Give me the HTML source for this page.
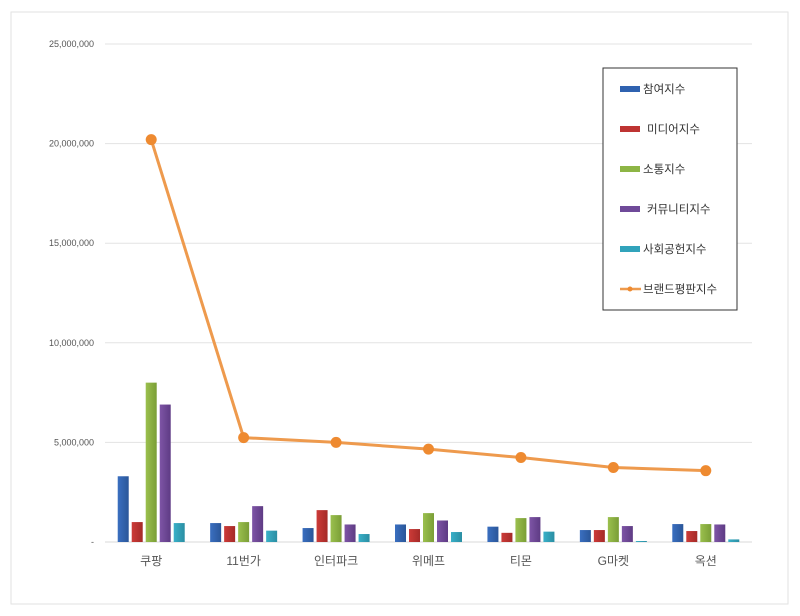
<!DOCTYPE html>
<html><head><meta charset="utf-8"><style>
body{margin:0;background:#fff;}
svg{display:block;font-family:"Liberation Sans","Noto Sans CJK KR",sans-serif;}
</style></head><body>
<svg id="chart" width="800" height="616">
<rect x="11" y="12" width="777" height="592" fill="#fff" stroke="#e2e2e2"/>
<g id="grid"></g>
<g id="yticks"></g>
<g id="bars"></g>
<g id="line"></g>
<g id="xlabels"></g>
<g id="legend"></g>
</svg>
<script>
const categories=["쿠팡","11번가","인터파크","위메프","티몬","G마켓","옥션"];
const participation=[3300000,950000,700000,880000,770000,600000,900000];
const media=[1000000,800000,1600000,650000,460000,600000,550000];
const communication=[8000000,1000000,1350000,1450000,1200000,1250000,900000];
const community=[6900000,1800000,880000,1080000,1250000,800000,880000];
const social=[950000,570000,400000,500000,520000,50000,130000];
const brandIndex=[20200000,5240000,5000000,4660000,4240000,3740000,3580000];
const yTicks=[0,5000000,10000000,15000000,20000000,25000000];
const yTickLabels=["-","5,000,000","10,000,000","15,000,000","20,000,000","25,000,000"];
const seriesNames=["참여지수","미디어지수","소통지수","커뮤니티지수","사회공헌지수","브랜드평판지수"];

const NS="http://www.w3.org/2000/svg";
const X0=105,X1=752,Y0=542,Y1=44,MAX=25000000;
const y=v=>Y0-(v/MAX)*(Y0-Y1);
const band=(X1-X0)/categories.length;
const xc=i=>X0+band*(i+0.5);
function mk(t,a,p){const e=document.createElementNS(NS,t);for(const k in a)e.setAttribute(k,a[k]);p.appendChild(e);return e;}
const grid=document.getElementById('grid'),yt=document.getElementById('yticks');
yTicks.forEach((v,i)=>{
 if(i>0){const l=mk('line',{x1:X0,x2:X1,y1:y(v),y2:y(v),stroke:'#e3e3e3','stroke-width':1},grid);
 }
 const t=mk('text',{x:94,y:y(v)+3,'text-anchor':'end','font-size':9,fill:'#555'},yt);
 t.textContent=yTickLabels[i];
 
});
mk('line',{x1:X0,x2:X1,y1:Y0,y2:Y0,stroke:'#d8d8d8'},grid);
const series=[participation,media,communication,community,social];
const colors=[["#3a6fc0","#2a5699"],["#cc3b38","#a52a28"],["#9bc04e","#7a9e36"],["#7e55a6","#5e3b84"],["#3ab0c8","#2a8ea3"]];
const defs=mk('defs',{},document.getElementById('chart'));
colors.forEach((c,k)=>{const g=mk('linearGradient',{id:'g'+k,x1:0,x2:1,y1:0,y2:0},defs);
 mk('stop',{offset:'0','stop-color':c[0]},g);mk('stop',{offset:'1','stop-color':c[1]},g);});
const bars=document.getElementById('bars');
const bw=11,pitch=14;
categories.forEach((c,i)=>{
 series.forEach((s,k)=>{
  const x=xc(i)-2*pitch+k*pitch-bw/2;
  const r=mk('rect',{x:x,y:y(s[i]),width:bw,height:Y0-y(s[i]),fill:'url(#g'+k+')'},bars);
  
  
 });
 const t=mk('text',{x:xc(i),y:565,'text-anchor':'middle','font-size':12,fill:'#555'},document.getElementById('xlabels'));
 t.textContent=c;
 
});
const lg=document.getElementById('line');
const pts=brandIndex.map((v,i)=>xc(i)+','+y(v)).join(' ');
const pl=mk('polyline',{points:pts,fill:'none',stroke:'#ee9a4d','stroke-width':3},lg);

brandIndex.forEach((v,i)=>{
 const c=mk('circle',{cx:xc(i),cy:y(v),r:5.5,fill:'#ee8a30'},lg);
 
});
const leg=document.getElementById('legend');
mk('rect',{x:603,y:68,width:134,height:242,fill:'#fff',stroke:'#333','stroke-width':1},leg);
const lc=["#2f62b0","#be3432","#8db545","#6f4a99","#31a3bb"];
seriesNames.forEach((n,k)=>{
 const yy=89+k*40;
 if(k<5){const r=mk('rect',{x:620,y:yy-3,width:20,height:6,fill:lc[k]},leg);
  }
 else{mk('line',{x1:620,x2:641,y1:yy,y2:yy,stroke:'#ee9a4d','stroke-width':2.5},leg);
  mk('circle',{cx:630,cy:yy,r:2.5,fill:'#ee8a30'},leg);}
 const t=mk('text',{x:(k==1||k==3)?647:643,y:yy+4,'font-size':11.5,fill:'#333'},leg);
 t.textContent=n;
 
});
</script>
</body></html>
